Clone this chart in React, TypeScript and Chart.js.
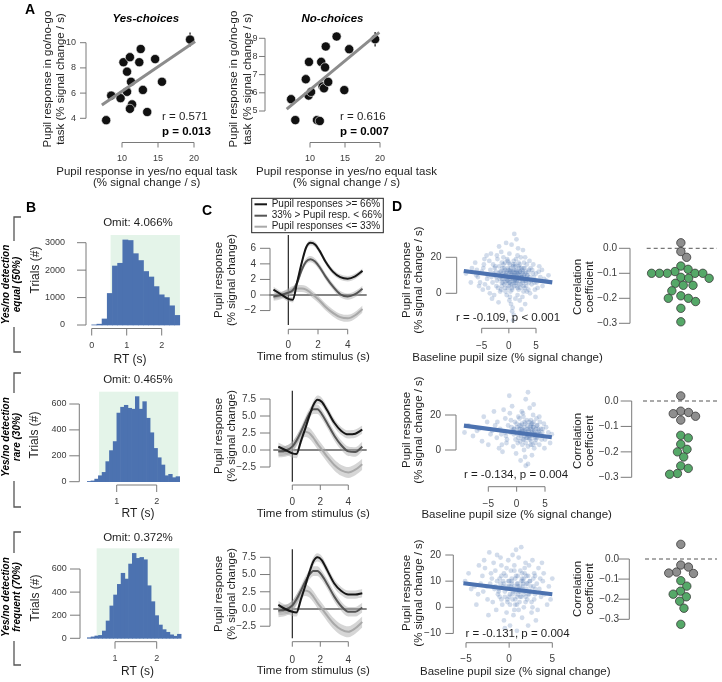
import React, { useEffect, useRef } from "react";
import { Chart, registerables } from "chart.js";

Chart.register(...registerables);

const W = 722;
const H = 682;
const FONT = '"Liberation Sans", Arial, Helvetica, sans-serif';
const AXIS = "#7a7a7a";
const TICK = "#3a3a3a";
const INK = "#1e1e1e";
const BLUE = "#4c72b0";
const MINT = "#e4f4e9";
const GREEN = "#55a868";
const GREYDOT = "#8e8e8e";
const BAND = "rgba(165,165,165,0.45)";
const R90 = -Math.PI / 2;

// ---------------- Panel A ----------------
const aXTicks = [10, 15, 20];
const aYesYTicks = [4, 6, 8, 10];
const aNoYTicks = [5, 6, 7, 8, 9];
const aYesX = [7.8, 8.5, 9.8, 10.2, 11.1, 10.7, 11.25, 10.7, 11.4, 11.1, 12.4, 12.6, 12.9, 13.5, 14.6, 15.55, 19.45];
const aYesY = [3.85, 5.8, 5.6, 8.45, 8.85, 7.7, 6.9, 6.1, 5.1, 4.75, 8.45, 9.5, 6.25, 4.5, 8.7, 6.9, 10.25];
const aYesErr = [0.25, 0.2, 0.2, 0.3, 0.2, 0.25, 0.2, 0.2, 0.25, 0.2, 0.3, 0.25, 0.2, 0.2, 0.3, 0.25, 0.55];
const aYesFitX = [7.2, 20.15];
const aYesFitY = [5.05, 10.1];
const aNoX = [7.3, 7.9, 9.4, 9.85, 9.8, 10.15, 11.0, 11.4, 11.6, 12.15, 12.25, 11.8, 12.0, 12.6, 13.8, 14.9, 15.6, 19.3];
const aNoY = [5.65, 4.5, 6.75, 7.7, 5.85, 6.05, 4.5, 4.45, 7.7, 7.4, 8.55, 6.35, 6.25, 6.6, 9.1, 6.15, 8.4, 8.95];
const aNoErr = [0.2, 0.2, 0.25, 0.2, 0.2, 0.2, 0.2, 0.2, 0.25, 0.2, 0.25, 0.2, 0.2, 0.2, 0.25, 0.2, 0.2, 0.4];
const aNoFitX = [6.67, 19.9];
const aNoFitY = [5.1, 9.33];

// ---------------- Panel B ----------------
const rtB1 = [0.074, 0.222, 0.37, 0.518, 0.666, 0.814, 0.962, 1.11, 1.258, 1.406, 1.554, 1.702, 1.85, 1.998, 2.146, 2.294, 2.442];
const trialsB1 = [5, 30, 220, 1150, 2150, 2250, 3100, 3080, 2600, 2350, 1950, 1750, 1400, 1100, 1000, 700, 350];
const rtB2 = [0.311, 0.403, 0.496, 0.588, 0.681, 0.773, 0.865, 0.958, 1.05, 1.143, 1.235, 1.327, 1.42, 1.512, 1.605, 1.697, 1.789, 1.882, 1.974, 2.067, 2.159, 2.251, 2.344, 2.436, 2.529];
const trialsB2 = [2, 6, 20, 46, 72, 155, 240, 310, 530, 575, 590, 567, 560, 657, 560, 618, 490, 378, 257, 185, 129, 46, 57, 31, 39];
const rtB3 = [0.381, 0.471, 0.561, 0.651, 0.741, 0.831, 0.921, 1.011, 1.101, 1.191, 1.281, 1.371, 1.461, 1.551, 1.641, 1.731, 1.821, 1.911, 2.001, 2.091, 2.181, 2.271, 2.361, 2.451, 2.541];
const trialsB3 = [5, 12, 20, 25, 63, 150, 280, 375, 467, 563, 513, 643, 735, 692, 700, 680, 455, 317, 196, 115, 75, 52, 30, 18, 35];
const windowB1 = [0.54, 2.52, 3281];
const windowB2 = [0.56, 2.54, 695];
const windowB3 = [0.56, 2.54, 779];
const omitLabels = ["Omit: 4.066%", "Omit: 0.465%", "Omit: 0.372%"];
const rowLabels = [
  ["Yes/no detection", "equal (50%)"],
  ["Yes/no detection", "rare (30%)"],
  ["Yes/no detection", "frequent (70%)"],
];

// ---------------- Panel C ----------------
const cTime = [-1, -0.5, 0, 0.3, 0.6, 0.9, 1.2, 1.5, 1.8, 2.1, 2.5, 3, 3.5, 4, 4.5, 5];
const c1High = [0.7, 0.1, -0.5, -0.6, 1.7, 4.1, 6.1, 6.7, 6.5, 5.7, 4.3, 3.0, 2.3, 2.1, 2.4, 3.1];
const c1Mid = [-0.2, 0.0, 0.3, 0.6, 1.6, 3.2, 4.3, 4.6, 4.3, 3.6, 2.4, 1.1, 0.1, -0.2, 0.1, 0.8];
const c1Low = [-0.3, -0.1, 0.4, 0.7, 0.85, 0.85, 0.7, 0.3, -0.2, -0.7, -1.5, -2.3, -2.85, -3.0, -2.6, -1.8];
const c1Sem = [0.35, 0.4, 0.45];
const c2High = [0.5, 0.0, -0.5, -0.6, 1.2, 3.0, 4.9, 6.6, 7.4, 7.1, 5.8, 4.0, 2.8, 2.3, 2.4, 3.0];
const c2Mid = [-0.2, -0.1, 0.5, 1.4, 2.6, 4.0, 5.3, 6.0, 6.0, 5.3, 3.9, 2.1, 0.7, -0.2, -0.3, 0.5];
const c2Low = [-0.3, -0.2, 0.4, 1.3, 2.3, 2.7, 2.5, 1.8, 0.9, 0.1, -1.0, -2.2, -3.0, -3.3, -2.9, -2.1];
const c2Sem = [0.6, 0.7, 0.8];
const c3High = [0.6, 0.0, -0.4, -0.5, 1.3, 3.2, 5.2, 6.9, 7.5, 7.1, 5.6, 3.7, 2.6, 2.1, 2.1, 2.3];
const c3Mid = [-0.2, -0.1, 0.5, 1.4, 2.6, 3.9, 4.9, 5.5, 5.5, 4.9, 3.6, 1.8, 0.4, -0.4, -0.4, 0.2];
const c3Low = [-0.4, -0.2, 0.4, 1.3, 2.3, 2.7, 2.5, 1.8, 0.9, 0.1, -1.0, -2.2, -3.0, -3.3, -2.8, -1.9];
const c3Sem = [0.6, 0.7, 0.8];
const cLegend = ["Pupil responses >= 66%", "33% > Pupil resp. < 66%", "Pupil responses <= 33%"];
const cColors = ["#161616", "#555555", "#a9a9a9"];
const cXTicks = [0, 2, 4];
const c1YTicks = [-2, 0, 2, 4, 6];
const c1YLabels = ["\u22122", "0", "2", "4", "6"];
const c23YTicks = [-2.5, 0, 2.5, 5, 7.5];
const c23YLabels = ["\u22122.5", "0.0", "2.5", "5.0", "7.5"];

// ---------------- Panel D ----------------
const dXTicks = [-5, 0, 5];
const dXLabels = ["\u22125", "0", "5"];
const d1Cloud = [
  [-0.4, 12], [1.2, 6], [2.3, 9], [-1.8, 15], [0.6, 3], [3.1, 7], [-2.5, 10], [1.9, 14], [0.2, -2], [4.2, 5],
  [-3.4, 13], [0.9, 18], [2.7, 1], [-0.9, 8], [1.5, 11], [-4.6, 16], [3.6, 12], [0.1, 22], [-1.3, 4], [2.0, -4],
  [5.1, 6], [-2.1, 19], [1.1, 9], [-0.2, 14], [3.3, 16], [-5.7, 9], [0.7, -8], [2.5, 11], [-1.6, 1], [4.6, 9],
  [-3.0, 6], [1.7, 25], [0.4, 10], [-0.7, 17], [2.9, 3], [6.2, 4], [-2.7, -1], [1.3, 13], [-4.1, 21], [3.9, 0],
  [0.0, 6], [2.2, 20], [-1.1, 11], [5.5, 12], [-6.8, 14], [1.6, -1], [-0.5, 28], [3.5, 8], [-2.2, 7], [0.8, 15],
  [4.0, 14], [-3.8, 3], [2.6, 6], [-1.4, 23], [0.3, 1], [6.9, 7], [-5.0, 12], [1.0, 4], [-0.1, 9], [3.0, -6],
  [2.4, 13], [-2.9, 16], [0.5, 11], [-1.9, -5], [4.8, 2], [1.4, 30], [-3.2, 9], [2.1, 8], [-0.8, 5], [3.8, 18],
  [-7.9, 11], [0.9, -12], [2.8, 10], [-1.2, 14], [5.8, 9], [-4.4, 5], [1.8, 2], [-0.3, 19], [3.2, 4], [-2.4, 12],
  [0.6, 8], [4.4, 11], [-1.5, 9], [2.0, 16], [-3.6, 18], [1.2, -3], [-0.6, 1], [6.1, 13], [-5.3, 6], [2.6, 24],
  [0.2, 13], [-2.0, 3], [3.7, 6], [1.5, 7], [-1.0, 20], [4.9, -2], [-6.2, 17], [0.7, 12], [2.3, -9], [-3.9, 10],
  [1.1, 16], [-0.4, -1], [3.4, 10], [-2.6, 14], [0.0, 17], [5.3, 3], [-1.7, 8], [2.7, 14], [-4.8, 2], [1.6, 21],
  [0.4, -6], [-3.3, 22], [4.1, 7], [-0.9, 12], [2.2, 5], [7.3, 10], [-2.3, 4], [1.0, 33], [-5.9, 13], [3.1, 12],
  [0.3, 5], [-1.3, 17], [2.5, -2], [-4.0, 8], [1.9, 10], [4.5, 16], [-0.2, 3], [-7.0, 6], [3.0, 20], [0.8, -15],
  [-2.8, 11], [1.4, 6], [5.0, 11], [-1.8, 26], [2.9, 7], [-0.5, 10], [-3.5, 0], [0.9, 9], [3.6, 2], [-1.1, 6],
  [6.5, 8], [1.7, 12], [-2.5, 15], [0.1, -4], [4.3, 13], [-4.5, 19], [2.1, 3], [-0.7, 13], [1.3, 19], [-6.0, 10],
  [3.8, 9], [0.5, 27], [-1.6, 12], [2.4, 9], [-3.1, -3], [5.6, 15], [0.0, 4], [-0.3, 7], [1.8, 15], [-2.2, 21],
  [3.3, 1], [-4.7, 14], [0.6, -10], [2.8, 17], [-1.4, 2], [4.7, 6], [1.1, 11], [-5.5, 4], [0.2, 16], [2.0, 12],
  [0.5, 9], [1.3, 10], [-0.2, 7], [2.1, 12], [0.9, 6], [1.6, 8], [-0.8, 10], [0.2, 12], [2.8, 9], [1.0, 13],
  [-1.2, 8], [0.7, 7], [1.9, 5], [-0.4, 11], [2.4, 8], [0.1, 9], [1.4, 4], [3.0, 11], [-1.5, 12], [0.8, 10],
  [1.7, 11], [-0.6, 6], [2.2, 10], [0.4, 14], [1.1, 7], [-0.9, 14], [2.6, 12], [0.0, 11], [1.5, 9], [3.2, 6],
  [-0.3, 9], [0.9, 12], [2.0, 7], [-1.9, 11], [1.2, 15], [0.3, 8], [2.7, 4], [-0.7, 3], [1.8, 17], [0.6, 5],
  [-1.0, 16], [2.3, 14], [0.2, 6], [1.4, 12], [3.4, 10], [-0.1, 13], [1.0, 10], [2.5, 7], [-1.3, 6], [0.8, 16],
  [1.6, 3], [-0.5, 8], [2.9, 14], [0.4, 12], [1.2, 8], [-2.3, 9], [3.7, 13], [0.6, 2], [1.9, 9], [-0.2, 18],
];
const d1FitX = [-8.3, 8.0];
const d1FitY = [12.4, 6.1];
const d2Cloud = [
  [-0.4, 12], [2.3, 8], [1.5, 15], [3.1, 11], [-2.0, 18], [0.6, 5], [4.2, 9], [2.0, 2], [-1.1, 10], [1.1, 21],
  [3.6, 14], [-3.5, 7], [0.1, 13], [2.7, -3], [5.0, 6], [-5.2, 16], [1.8, 12], [-0.8, 25], [3.3, 4], [0.9, 9],
  [-2.6, 3], [2.5, 17], [4.6, 12], [-1.5, 14], [1.3, 0], [-7.0, 11], [3.9, 8], [0.3, 19], [2.1, 11], [-4.0, 22],
  [5.6, 10], [-0.2, 6], [1.6, 29], [3.0, 13], [-2.9, 12], [0.7, -6], [4.0, 3], [-1.9, 8], [2.8, 15], [-6.1, 5],
  [1.0, 12], [3.5, 18], [-0.6, 2], [2.2, 7], [-3.8, 14], [4.8, 15], [0.4, 10], [-1.3, 31], [2.6, 5], [6.2, 9],
  [-8.5, 14], [1.4, 16], [-0.1, -2], [3.2, 9], [-2.3, 23], [0.8, 14], [4.4, 6], [2.0, -8], [-4.6, 9], [1.7, 7],
  [3.8, 12], [-1.0, 17], [0.2, 4], [2.9, 20], [-5.8, 19], [5.2, 13], [-0.5, 9], [1.2, 11], [-3.1, 1], [3.4, 6],
  [0.0, 15], [2.4, 13], [-2.0, 10], [4.9, 1], [-7.7, 8], [1.5, -4], [3.0, 26], [-1.7, 6], [0.5, 18], [2.7, 10],
  [-3.4, 16], [4.1, 16], [1.0, 3], [-0.9, 13], [2.3, 24], [-6.6, 12], [3.7, 9], [0.3, 7], [-2.5, -1], [5.9, 4],
  [1.9, 9], [-1.2, 21], [0.6, 12], [3.1, 1], [-4.3, 11], [2.5, 14], [-0.3, 16], [4.5, 10], [1.3, 6], [-9.2, 10],
  [2.0, 33], [-1.8, 4], [3.6, 7], [0.9, 22], [-2.7, 9], [4.0, 19], [1.6, -9], [-0.7, 11], [2.8, 3], [-5.0, 3],
  [1.5, 10], [2.5, 12], [0.8, 8], [3.0, 10], [1.9, 14], [2.3, 6], [1.0, 11], [3.4, 12], [1.7, 9], [0.4, 12],
  [2.8, 8], [1.3, 13], [2.1, 10], [3.9, 11], [1.1, 6], [2.6, 15], [0.6, 10], [3.2, 7], [1.8, 17], [2.4, 9],
  [0.9, 15], [3.6, 14], [1.4, 8], [2.0, 12], [-0.2, 10], [2.9, 13], [1.6, 4], [3.3, 9], [0.2, 9], [2.2, 16],
  [1.2, 19], [4.3, 12], [2.7, 11], [0.5, 14], [1.9, 7], [3.0, 16], [-0.5, 12], [2.5, 3], [1.4, 11], [3.8, 10],
];
const d2FitX = [-9.3, 6.2];
const d2FitY = [13.9, 7.3];
const d3Cloud = [
  [0.2, 8], [-1.1, 4], [1.4, 10], [2.3, 5], [-0.6, 13], [0.9, 1], [-2.2, 9], [1.8, 15], [3.0, 7], [-0.3, -2],
  [0.7, 11], [2.6, 2], [-1.7, 7], [1.1, 19], [-3.1, 12], [0.4, 5], [2.0, 9], [-0.9, 16], [3.6, 11], [1.5, -4],
  [-2.5, 3], [0.0, 10], [2.9, 13], [-1.4, 20], [1.2, 6], [-4.0, 8], [3.3, -1], [0.6, 14], [-0.2, 3], [2.2, 12],
  [-2.8, 15], [1.7, 0], [4.1, 5], [-1.0, 9], [0.8, 22], [2.5, 8], [-3.6, 5], [0.1, -7], [1.9, 17], [-0.5, 6],
  [3.9, 10], [-2.0, 11], [1.3, 4], [-0.8, 1], [2.7, 18], [-4.7, 13], [0.5, 7], [3.1, -5], [-1.6, 14], [1.0, 12],
  [-0.1, 18], [2.1, 3], [-2.4, -3], [4.6, 8], [0.3, 11], [-1.2, 7], [1.6, 9], [3.4, 15], [-3.3, 9], [0.9, -9],
  [2.4, 6], [-0.7, 10], [1.4, 23], [-1.9, 2], [4.4, 1], [0.0, 4], [-2.9, 18], [2.8, 11], [1.1, -1], [-0.4, 12],
  [3.7, 4], [-1.3, 5], [0.6, 16], [2.0, 7], [-3.8, 1], [1.8, 13], [-0.6, -5], [5.0, 11], [0.2, 14], [-2.1, 13],
  [2.6, -2], [-1.0, 19], [1.2, 2], [3.2, 9], [-4.4, 7], [0.4, 20], [1.7, 5], [-0.2, 8], [2.3, 16], [-1.5, -1],
  [4.0, 13], [0.8, 6], [-2.6, 8], [1.5, 11], [-0.9, 3], [3.5, 7], [-5.1, 10], [0.1, 1], [2.2, -7], [-1.8, 17],
  [1.0, 9], [2.9, 3], [-0.3, 15], [1.9, 4], [-3.0, 6], [0.5, -3], [3.8, 17], [-1.1, 11], [2.4, 10], [-2.3, 21],
  [0.7, 3], [1.3, 14], [-0.5, -8], [3.0, 12], [-3.5, 16], [1.6, 8], [4.8, 3], [-1.4, 10], [0.3, 9], [2.7, 0],
  [0.5, 6], [1.2, 8], [-0.3, 7], [1.8, 6], [0.9, 9], [0.1, 5], [1.5, 7], [-0.7, 8], [2.1, 9], [0.4, 3],
  [1.0, 5], [-0.1, 10], [1.7, 11], [0.6, 8], [2.5, 6], [-1.2, 6], [0.8, 12], [1.4, 4], [0.2, 7], [1.9, 2],
  [-0.5, 4], [1.1, 7], [2.8, 8], [0.0, 8], [1.6, 10], [-0.9, 12], [0.7, 1], [2.2, 5], [0.3, 10], [1.3, 6],
  [-1.6, 8], [2.0, 12], [0.9, 4], [-0.2, 2], [1.5, 13], [0.6, -1], [2.4, 10], [1.0, 8], [-0.6, 9], [3.0, 5],
];
const d3FitX = [-5.3, 5.0];
const d3FitY = [9.2, 5.0];
const dRText = ["r = -0.109, p < 0.001", "r = -0.134, p = 0.004", "r = -0.131, p = 0.004"];
const corrTicks = [0, -0.1, -0.2, -0.3];
const corrLabels = ["0.0", "\u22120.1", "\u22120.2", "\u22120.3"];
const corrD1Grey = [0.022, -0.013, -0.036];
const corrD1Green = [-0.071, -0.084, -0.093, -0.1, -0.1, -0.1, -0.1, -0.1, -0.116, -0.12, -0.12, -0.14, -0.148, -0.148, -0.17, -0.19, -0.2, -0.2, -0.213, -0.24, -0.294];
const corrD2Grey = [0.02, -0.04, -0.045, -0.05, -0.06, -0.075];
const corrD2Green = [-0.135, -0.145, -0.17, -0.19, -0.2, -0.22, -0.255, -0.265, -0.285, -0.288];
const corrD3Grey = [0.073, -0.03, -0.04, -0.065, -0.07, -0.072];
const corrD3Green = [-0.108, -0.135, -0.16, -0.175, -0.188, -0.21, -0.245, -0.325];

// ---------------- helpers ----------------
const pts = (xs: number[], ys: number[]) => xs.map((x, i) => ({ x, y: ys[i] }));

function mapRange(m: number[], p0: number, p1: number) {
  const [v1, q1, v2, q2] = m;
  const k = (v2 - v1) / (q2 - q1);
  return [v1 + (p0 - q1) * k, v1 + (p1 - q1) * k];
}

function drawText(ctx: any, s: any) {
  ctx.save();
  ctx.translate(s.x, s.y);
  if (s.rot) ctx.rotate(s.rot);
  ctx.font = `${s.italic ? "italic " : ""}${s.bold ? "bold " : ""}${s.size || 11.5}px ${FONT}`;
  ctx.fillStyle = s.color || INK;
  ctx.textAlign = s.align || "center";
  ctx.textBaseline = "middle";
  ctx.fillText(s.t, 0, 0);
  ctx.restore();
}

function drawAxis(chart: any, a: any) {
  const ctx = chart.ctx;
  const sc = a.dir === "x" ? chart.scales.x : chart.scales.y;
  const ps = a.ticks.map((t: number) => sc.getPixelForValue(t));
  const lo = Math.min(...ps);
  const hi = Math.max(...ps);
  ctx.save();
  ctx.strokeStyle = AXIS;
  ctx.lineWidth = 1;
  ctx.beginPath();
  if (a.dir === "x") {
    ctx.moveTo(lo, a.pos);
    ctx.lineTo(hi, a.pos);
    ps.forEach((p: number) => {
      ctx.moveTo(p, a.pos);
      ctx.lineTo(p, a.pos + a.len);
    });
  } else {
    ctx.moveTo(a.pos, lo);
    ctx.lineTo(a.pos, hi);
    ps.forEach((p: number) => {
      ctx.moveTo(a.pos, p);
      ctx.lineTo(a.pos - a.len, p);
    });
  }
  ctx.stroke();
  ctx.restore();
  a.labels.forEach((l: string, i: number) => {
    if (a.dir === "x") drawText(ctx, { t: l, x: ps[i], y: a.lab, size: a.size, color: TICK });
    else drawText(ctx, { t: l, x: a.lab, y: ps[i], size: a.size, color: TICK, align: "right" });
  });
}

function swarm(vals: number[], ppu: number, r: number) {
  const order = vals.map((_, i) => i).sort((a, b) => vals[b] - vals[a]);
  const placed: { x: number; y: number }[] = [];
  const out = vals.map(() => 0);
  const d = 2 * r;
  order.forEach((i) => {
    const y = -vals[i] * ppu;
    const cands = [0];
    placed.forEach((p) => {
      const dy = Math.abs(p.y - y);
      if (dy < d) {
        const dx = Math.sqrt(d * d - dy * dy);
        cands.push(p.x + dx, p.x - dx);
      }
    });
    cands.sort((a, b) => Math.abs(a) - Math.abs(b) || b - a);
    const ok = cands.find((c) => placed.every((p) => (p.x - c) ** 2 + (p.y - y) ** 2 >= d * d - 0.01));
    const x = ok === undefined ? 0 : ok;
    placed.push({ x, y });
    out[i] = x;
  });
  return out;
}

function build(spec: any) {
  const [l, t, r, b] = spec.area;
  const [xmin, xmax] = mapRange(spec.xMap, l, r);
  const [ymin, ymax] = mapRange(spec.yMap, b, t);
  const helpers = (chart: any) => ({
    ctx: chart.ctx,
    area: chart.chartArea,
    sx: (v: number) => chart.scales.x.getPixelForValue(v),
    sy: (v: number) => chart.scales.y.getPixelForValue(v),
  });
  return {
    type: spec.type,
    data: { datasets: spec.datasets.map((d: any) => ({ clip: false, ...d })) },
    options: {
      animation: false,
      responsive: false,
      maintainAspectRatio: false,
      devicePixelRatio: 1,
      events: [],
      layout: { padding: { left: l, top: t, right: W - r, bottom: H - b } },
      scales: {
        x: { type: "linear", display: false, min: xmin, max: xmax, offset: false, ticks: { count: 2 }, grid: { offset: false } },
        y: { type: "linear", display: false, min: ymin, max: ymax, ticks: { count: 2 } },
      },
      plugins: { legend: { display: false }, tooltip: { enabled: false } },
    },
    plugins: [
      {
        id: "decor",
        beforeDatasetsDraw(chart: any) {
          if (spec.under) spec.under(helpers(chart));
        },
        afterDatasetsDraw(chart: any) {
          (spec.axes || []).forEach((a: any) => drawAxis(chart, a));
          (spec.texts || []).forEach((s: any) => drawText(chart.ctx, s));
          if (spec.over) spec.over(helpers(chart));
        },
      },
    ],
  };
}

// ---------------- spec builders ----------------
function errBars(h: any, xs: number[], ys: number[], es: number[]) {
  const { ctx, sx, sy } = h;
  ctx.save();
  ctx.strokeStyle = "#111";
  ctx.lineWidth = 1.2;
  ctx.beginPath();
  xs.forEach((x, i) => {
    ctx.moveTo(sx(x), sy(ys[i] - es[i]));
    ctx.lineTo(sx(x), sy(ys[i] + es[i]));
  });
  ctx.stroke();
  ctx.restore();
}

function specA(o: any) {
  return {
    type: "scatter",
    area: o.area,
    xMap: o.xMap,
    yMap: o.yMap,
    datasets: [
      { type: "line", data: pts(o.fitX, o.fitY), borderColor: "#8c8c8c", borderWidth: 3, pointRadius: 0, fill: false },
      {
        type: "scatter",
        data: pts(o.xs, o.ys),
        pointRadius: 4.6,
        pointBackgroundColor: "#111111",
        backgroundColor: "#111111",
        pointBorderColor: "#ffffff",
        borderColor: "#ffffff",
        pointBorderWidth: 0.6,
      },
    ],
    axes: [
      { dir: "y", pos: o.yPos, ticks: o.yTicks, labels: o.yTicks.map(String), len: 6, lab: o.yLab, size: 9 },
      { dir: "x", pos: 142.5, ticks: aXTicks, labels: aXTicks.map(String), len: 5, lab: 158.5, size: 9 },
    ],
    under: (h: any) => errBars(h, o.xs, o.ys, o.es),
    texts: o.texts,
  };
}

function bracket(ctx: any, top: number, bottom: number, g0: number, g1: number) {
  ctx.save();
  ctx.strokeStyle = "#555555";
  ctx.lineWidth = 1.3;
  ctx.beginPath();
  ctx.moveTo(21, top);
  ctx.lineTo(14, top);
  ctx.lineTo(14, g0);
  ctx.moveTo(14, g1);
  ctx.lineTo(14, bottom);
  ctx.lineTo(21, bottom);
  ctx.stroke();
  ctx.restore();
}

function specB(o: any) {
  return {
    type: "bar",
    area: o.area,
    xMap: o.xMap,
    yMap: o.yMap,
    datasets: [
      {
        data: pts(o.rt, o.trials),
        backgroundColor: BLUE,
        borderWidth: 0,
        barPercentage: 1,
        categoryPercentage: 1,
      },
    ],
    axes: [
      { dir: "y", pos: o.yPos, ticks: o.yTicks, labels: o.yTicks.map(String), len: o.yLen, lab: o.yLab, size: 9 },
      { dir: "x", pos: o.xPos, ticks: o.xTicks, labels: o.xTicks.map(String), len: 7, lab: o.xLab, size: 9 },
    ],
    under: (h: any) => {
      const { ctx, sx, sy } = h;
      ctx.save();
      ctx.fillStyle = MINT;
      ctx.fillRect(sx(o.win[0]), sy(o.win[2]), sx(o.win[1]) - sx(o.win[0]), sy(0) - sy(o.win[2]));
      ctx.restore();
    },
    over: (h: any) => bracket(h.ctx, o.br[0], o.br[1], o.br[2], o.br[3]),
    texts: o.texts,
  };
}

function bandSets(ys: number[], e: number) {
  return [
    {
      type: "line",
      data: pts(cTime, ys.map((v) => v + e)),
      borderColor: "transparent",
      borderWidth: 0,
      pointRadius: 0,
      fill: false,
      cubicInterpolationMode: "monotone",
      order: 5,
    },
    {
      type: "line",
      data: pts(cTime, ys.map((v) => v - e)),
      borderColor: "transparent",
      borderWidth: 0,
      pointRadius: 0,
      fill: "-1",
      backgroundColor: BAND,
      cubicInterpolationMode: "monotone",
      order: 5,
    },
  ];
}

function specC(o: any) {
  const curves = [o.hi, o.mid, o.lo];
  const ds: any[] = [];
  curves.forEach((c, k) => ds.push(...bandSets(c, o.sem[k])));
  curves.forEach((c, k) =>
    ds.push({
      type: "line",
      data: pts(cTime, c),
      borderColor: cColors[k],
      borderWidth: 2,
      pointRadius: 0,
      fill: false,
      cubicInterpolationMode: "monotone",
      order: k,
    })
  );
  return {
    type: "line",
    area: o.area,
    xMap: o.xMap,
    yMap: o.yMap,
    datasets: ds,
    axes: [
      { dir: "y", pos: 270, ticks: o.yTicks, labels: o.yLabels, len: 10, lab: 256, size: 10 },
      { dir: "x", pos: o.xPos, ticks: cXTicks, labels: cXTicks.map(String), len: 5, lab: o.xLab, size: 10 },
    ],
    under: (h: any) => {
      const { ctx, sx, sy, area } = h;
      ctx.save();
      ctx.strokeStyle = "#111";
      ctx.lineWidth = 1.1;
      ctx.beginPath();
      ctx.moveTo(area.left, sy(0));
      ctx.lineTo(area.right, sy(0));
      ctx.moveTo(sx(0), area.top);
      ctx.lineTo(sx(0), area.bottom);
      ctx.stroke();
      ctx.restore();
    },
    over: o.over,
    texts: o.texts,
  };
}

function specD(o: any) {
  return {
    type: "scatter",
    area: o.area,
    xMap: o.xMap,
    yMap: o.yMap,
    datasets: [
      { type: "line", data: pts(o.fitX, o.fitY), borderColor: BLUE, borderWidth: 4.2, pointRadius: 0, fill: false },
      {
        type: "scatter",
        data: o.cloud.map((p: number[]) => ({ x: p[0], y: p[1] })),
        pointRadius: 2.4,
        pointBackgroundColor: "rgba(76,114,176,0.25)",
        backgroundColor: "rgba(76,114,176,0.25)",
        pointBorderWidth: 0,
        borderWidth: 0,
      },
    ],
    axes: [
      { dir: "y", pos: o.yPos, ticks: o.yTicks, labels: o.yLabels, len: o.yLen, lab: o.yLab, size: 10 },
      { dir: "x", pos: o.xPos, ticks: dXTicks, labels: dXLabels, len: 5, lab: o.xLab, size: 10 },
    ],
    texts: o.texts,
  };
}

function specDots(o: any) {
  const all = [...o.grey, ...o.green];
  const ppu = Math.abs((o.yMap[3] - o.yMap[1]) / (o.yMap[2] - o.yMap[0]));
  const off = swarm(all, ppu, 4.2);
  const greyPts = o.grey.map((v: number, i: number) => ({ x: off[i], y: v }));
  const greenPts = o.green.map((v: number, i: number) => ({ x: off[o.grey.length + i], y: v }));
  const style = { pointRadius: 4.2, pointBorderColor: "#3a3a3a", borderColor: "#3a3a3a", pointBorderWidth: 0.8 };
  return {
    type: "scatter",
    area: o.area,
    xMap: [0, 683.3, 1, 684.3],
    yMap: o.yMap,
    datasets: [
      { type: "scatter", data: greyPts, pointBackgroundColor: GREYDOT, backgroundColor: GREYDOT, ...style },
      { type: "scatter", data: greenPts, pointBackgroundColor: GREEN, backgroundColor: GREEN, ...style },
    ],
    axes: [{ dir: "y", pos: o.yPos, ticks: corrTicks, labels: corrLabels, len: 11, lab: o.yLab, size: 10 }],
    under: (h: any) => {
      const { ctx, sy, area } = h;
      ctx.save();
      ctx.strokeStyle = "#555";
      ctx.lineWidth = 1;
      ctx.setLineDash([4, 3]);
      ctx.beginPath();
      ctx.moveTo(area.left, sy(0));
      ctx.lineTo(area.right, sy(0));
      ctx.stroke();
      ctx.restore();
    },
    texts: o.texts,
  };
}

const rotT = (t: string, x: number, y: number, extra: any = {}) => ({ t, x, y, rot: R90, ...extra });

// ---------------- specs ----------------
const SPECS = [
  specA({
    area: [98, 35, 205, 126],
    xMap: [10, 122, 20, 194],
    yMap: [4, 118.3, 10, 42.7],
    xs: aYesX, ys: aYesY, es: aYesErr, fitX: aYesFitX, fitY: aYesFitY,
    yTicks: aYesYTicks, yPos: 86, yLab: 76,
    texts: [
      { t: "A", x: 25, y: 10, size: 14, bold: true, align: "left", color: "#000" },
      { t: "Yes-choices", x: 145.8, y: 19, bold: true, italic: true, color: "#000" },
      rotT("Pupil response in go/no-go", 47.5, 79),
      rotT("task (% signal change / s)", 60.5, 79),
      { t: "Pupil response in yes/no equal task", x: 146.7, y: 171.7 },
      { t: "(% signal change / s)", x: 146.7, y: 183.3 },
      { t: "r = 0.571", x: 162, y: 117.3, align: "left" },
      { t: "p = 0.013", x: 162, y: 132.3, align: "left", bold: true, color: "#000" },
    ],
  }),
  specA({
    area: [280, 30, 385, 126],
    xMap: [10, 310, 20, 380],
    yMap: [5, 111, 9, 38.3],
    xs: aNoX, ys: aNoY, es: aNoErr, fitX: aNoFitX, fitY: aNoFitY,
    yTicks: aNoYTicks, yPos: 265, yLab: 257.5,
    texts: [
      { t: "No-choices", x: 332.5, y: 19, bold: true, italic: true, color: "#000" },
      rotT("Pupil response in go/no-go", 234.2, 79),
      rotT("task (% signal change / s)", 247.5, 79),
      { t: "Pupil response in yes/no equal task", x: 346.5, y: 171.7 },
      { t: "(% signal change / s)", x: 346.5, y: 183.3 },
      { t: "r = 0.616", x: 340, y: 117.3, align: "left" },
      { t: "p = 0.007", x: 340, y: 132.3, align: "left", bold: true, color: "#000" },
    ],
  }),
  specB({
    area: [88, 230, 185, 325],
    xMap: [0, 91.7, 2, 161.7],
    yMap: [0, 325, 3000, 242.7],
    rt: rtB1, trials: trialsB1, win: windowB1,
    yPos: 86, yTicks: [0, 1000, 2000, 3000], yLen: 9, yLab: 65,
    xPos: 328.5, xTicks: [0, 1, 2], xLab: 346,
    br: [217, 352, 241, 327],
    texts: [
      { t: "B", x: 26, y: 208, size: 14, bold: true, align: "left", color: "#000" },
      { t: omitLabels[0], x: 138, y: 223.3 },
      rotT("Trials (#)", 36, 270, { size: 12 }),
      { t: "RT (s)", x: 130, y: 360, size: 12 },
      rotT(rowLabels[0][0], 6.7, 284.5, { size: 10, bold: true, italic: true, color: "#000" }),
      rotT(rowLabels[0][1], 17, 284.5, { size: 10, bold: true, italic: true, color: "#000" }),
    ],
  }),
  specB({
    area: [80, 385, 185, 481.7],
    xMap: [1, 116.7, 2, 156.7],
    yMap: [0, 481.7, 600, 404],
    rt: rtB2, trials: trialsB2, win: windowB2,
    yPos: 79.3, yTicks: [0, 200, 400, 600], yLen: 10, yLab: 66.5,
    xPos: 485, xTicks: [1, 2], xLab: 501.7,
    br: [373, 507, 393, 481],
    texts: [
      { t: omitLabels[1], x: 138, y: 380 },
      rotT("Trials (#)", 35, 435, { size: 12 }),
      { t: "RT (s)", x: 138, y: 513.3, size: 12 },
      rotT(rowLabels[1][0], 6.7, 437, { size: 10, bold: true, italic: true, color: "#000" }),
      rotT(rowLabels[1][1], 17, 437, { size: 10, bold: true, italic: true, color: "#000" }),
    ],
  }),
  specB({
    area: [80, 545, 185, 638.3],
    xMap: [1, 115, 2, 156.7],
    yMap: [0, 638.3, 600, 569],
    rt: rtB3, trials: trialsB3, win: windowB3,
    yPos: 80, yTicks: [0, 200, 400, 600], yLen: 10, yLab: 66.7,
    xPos: 641.7, xTicks: [1, 2], xLab: 659,
    br: [532, 665, 553, 641],
    texts: [
      { t: omitLabels[2], x: 138, y: 538.3 },
      rotT("Trials (#)", 35.8, 598, { size: 12 }),
      { t: "RT (s)", x: 137.5, y: 671.7, size: 12 },
      rotT(rowLabels[2][0], 6.7, 597, { size: 10, bold: true, italic: true, color: "#000" }),
      rotT(rowLabels[2][1], 17, 597, { size: 10, bold: true, italic: true, color: "#000" }),
    ],
  }),
  specC({
    area: [269.3, 235, 366.7, 325],
    xMap: [0, 288.3, 4, 347.7],
    yMap: [0, 295, 6, 248.3],
    hi: c1High, mid: c1Mid, lo: c1Low, sem: c1Sem,
    yTicks: c1YTicks, yLabels: c1YLabels, xPos: 329.3, xLab: 345.7,
    texts: [
      { t: "C", x: 202, y: 211, size: 14, bold: true, align: "left", color: "#000" },
      rotT("Pupil response", 219, 280),
      rotT("(% signal change)", 232, 280),
      { t: "Time from stimulus (s)", x: 313.3, y: 357.3 },
    ],
    over: (h: any) => {
      const { ctx } = h;
      ctx.save();
      ctx.strokeStyle = "#222";
      ctx.lineWidth = 1;
      ctx.strokeRect(251.7, 198.3, 131.6, 34.4);
      const ys = [204.3, 215.7, 226.7];
      ys.forEach((y, k) => {
        ctx.strokeStyle = cColors[k];
        ctx.lineWidth = 2;
        ctx.beginPath();
        ctx.moveTo(254.5, y);
        ctx.lineTo(267, y);
        ctx.stroke();
        drawText(ctx, { t: cLegend[k], x: 271.7, y, size: 10, align: "left" });
      });
      ctx.restore();
    },
  }),
  specC({
    area: [273.3, 390.7, 366.7, 481.7],
    xMap: [0, 292.3, 4, 348.3],
    yMap: [0, 450, 7.5, 399],
    hi: c2High, mid: c2Mid, lo: c2Low, sem: c2Sem,
    yTicks: c23YTicks, yLabels: c23YLabels, xPos: 485, xLab: 502.3,
    texts: [
      rotT("Pupil response", 219, 436),
      rotT("(% signal change)", 232, 436),
      { t: "Time from stimulus (s)", x: 313.3, y: 514.3 },
    ],
  }),
  specC({
    area: [273.3, 549.3, 366.7, 638.3],
    xMap: [0, 292.3, 4, 348.3],
    yMap: [0, 609, 7.5, 557.3],
    hi: c3High, mid: c3Mid, lo: c3Low, sem: c3Sem,
    yTicks: c23YTicks, yLabels: c23YLabels, xPos: 641.7, xLab: 660,
    texts: [
      rotT("Pupil response", 219, 594),
      rotT("(% signal change)", 232, 594),
      { t: "Time from stimulus (s)", x: 313.3, y: 671 },
    ],
  }),
  specD({
    area: [458, 228, 560, 332],
    xMap: [-5, 481.7, 5, 536],
    yMap: [0, 293.3, 20, 257.3],
    cloud: d1Cloud, fitX: d1FitX, fitY: d1FitY,
    yPos: 456.7, yTicks: [0, 20], yLabels: ["0", "20"], yLen: 11, yLab: 441.5,
    xPos: 328.3, xLab: 346,
    texts: [
      { t: "D", x: 392, y: 207, size: 14, bold: true, align: "left", color: "#000" },
      rotT("Pupil response", 407, 280),
      rotT("(% signal change / s)", 419, 280),
      { t: "Baseline pupil size (% signal change)", x: 507.5, y: 358.3 },
      { t: dRText[0], x: 508, y: 318.3 },
    ],
  }),
  specD({
    area: [458, 385, 560, 490],
    xMap: [-5, 488.3, 5, 545],
    yMap: [0, 450, 20, 415],
    cloud: d2Cloud, fitX: d2FitX, fitY: d2FitY,
    yPos: 456, yTicks: [0, 20], yLabels: ["0", "20"], yLen: 11, yLab: 441,
    xPos: 486.7, xLab: 504,
    texts: [
      rotT("Pupil response", 407, 430),
      rotT("(% signal change / s)", 419, 430),
      { t: "Baseline pupil size (% signal change)", x: 516.7, y: 515 },
      { t: dRText[1], x: 516, y: 475 },
    ],
  }),
  specD({
    area: [455, 540, 560, 640],
    xMap: [-5, 466, 5, 552.3],
    yMap: [0, 607.3, 20, 555],
    cloud: d3Cloud, fitX: d3FitX, fitY: d3FitY,
    yPos: 453.3, yTicks: [-10, 0, 10, 20], yLabels: ["\u221210", "0", "10", "20"], yLen: 8, yLab: 441,
    xPos: 642.7, xLab: 659.3,
    texts: [
      rotT("Pupil response", 407, 593),
      rotT("(% signal change / s)", 419, 593),
      { t: "Baseline pupil size (% signal change)", x: 515.3, y: 671.7 },
      { t: dRText[2], x: 517.5, y: 634 },
    ],
  }),
  specDots({
    area: [646.7, 235, 722, 330],
    yMap: [0, 248.3, -0.3, 323.3],
    grey: corrD1Grey, green: corrD1Green,
    yPos: 630, yLab: 617,
    texts: [rotT("Correlation", 577.5, 287), rotT("coefficient", 589.5, 287)],
  }),
  specDots({
    area: [643, 385, 722, 485],
    yMap: [0, 401, -0.3, 477.3],
    grey: corrD2Grey, green: corrD2Green,
    yPos: 631.7, yLab: 618.5,
    texts: [rotT("Correlation", 577.5, 441), rotT("coefficient", 589.5, 441)],
  }),
  specDots({
    area: [645, 535, 722, 630],
    yMap: [0, 559, -0.3, 619.3],
    grey: corrD3Grey, green: corrD3Green,
    yPos: 629.3, yLab: 619,
    texts: [rotT("Correlation", 577.5, 589), rotT("coefficient", 589.5, 589)],
  }),
];

function Layer({ spec }: { spec: any }) {
  const ref = useRef<HTMLCanvasElement>(null);
  useEffect(() => {
    const chart = new Chart(ref.current as HTMLCanvasElement, build(spec) as any);
    return () => chart.destroy();
  }, [spec]);
  return (
    <canvas
      ref={ref}
      width={W}
      height={H}
      style={{ position: "absolute", left: 0, top: 0, width: W, height: H }}
    />
  );
}

export default function App() {
  return (
    <div style={{ position: "absolute", left: 0, top: 0, width: W, height: H, background: "#ffffff", overflow: "hidden" }}>
      {SPECS.map((s, i) => (
        <Layer key={i} spec={s} />
      ))}
    </div>
  );
}
